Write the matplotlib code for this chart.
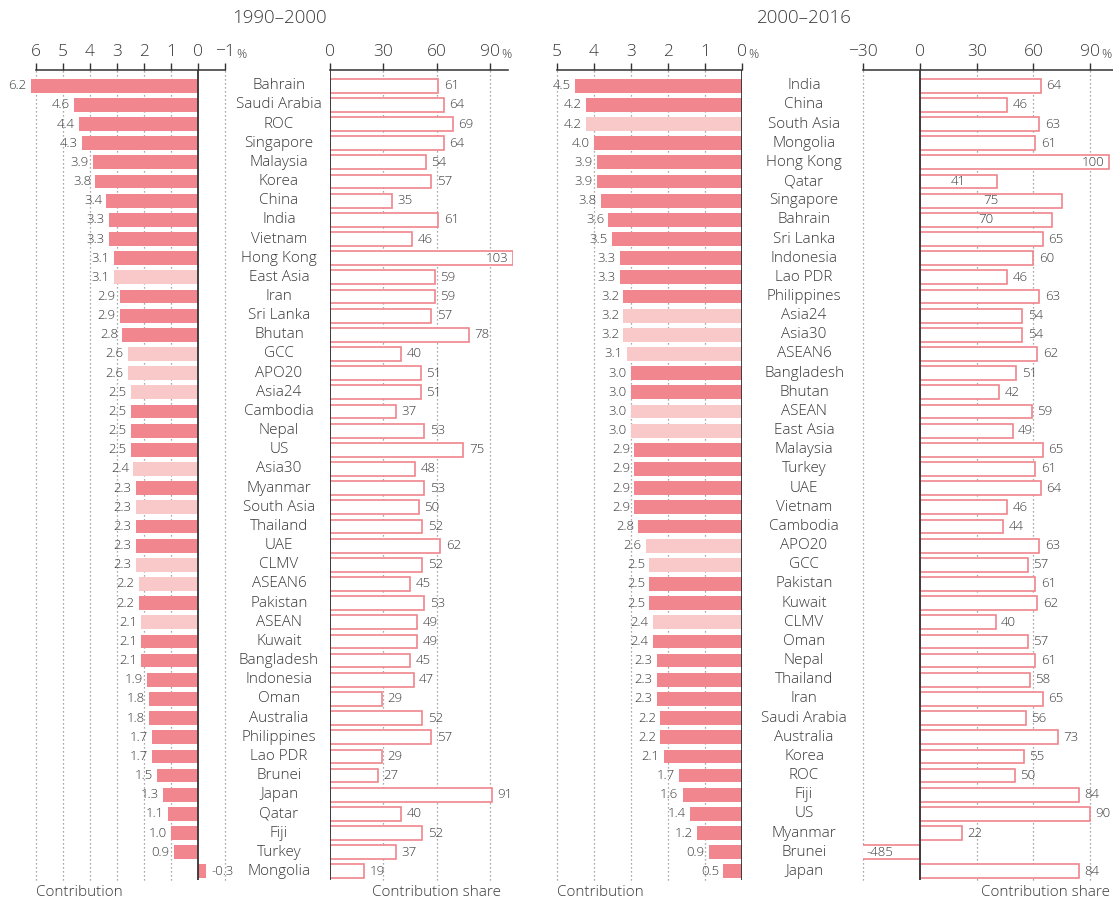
import matplotlib
matplotlib.use("Agg")
import matplotlib.pyplot as plt
from matplotlib.transforms import blended_transform_factory

plt.rcParams['font.family'] = ['Open Sans', 'DejaVu Sans']
plt.rcParams['font.weight'] = 'light'

# ---- data -------------------------------------------------------------
names_1990 = ["Bahrain", "Saudi Arabia", "ROC", "Singapore", "Malaysia", "Korea",
              "China", "India", "Vietnam", "Hong Kong", "East Asia", "Iran",
              "Sri Lanka", "Bhutan", "GCC", "APO20", "Asia24", "Cambodia", "Nepal",
              "US", "Asia30", "Myanmar", "South Asia", "Thailand", "UAE", "CLMV",
              "ASEAN6", "Pakistan", "ASEAN", "Kuwait", "Bangladesh", "Indonesia",
              "Oman", "Australia", "Philippines", "Lao PDR", "Brunei", "Japan",
              "Qatar", "Fiji", "Turkey", "Mongolia"]
contrib_1990 = [6.2, 4.6, 4.4, 4.3, 3.9, 3.8, 3.4, 3.3, 3.3, 3.1, 3.1, 2.9, 2.9,
                2.8, 2.6, 2.6, 2.5, 2.5, 2.5, 2.5, 2.4, 2.3, 2.3, 2.3, 2.3, 2.3,
                2.2, 2.2, 2.1, 2.1, 2.1, 1.9, 1.8, 1.8, 1.7, 1.7, 1.5, 1.3, 1.1,
                1.0, 0.9, -0.3]
share_1990 = [61, 64, 69, 64, 54, 57, 35, 61, 46, 103, 59, 59, 57, 78, 40, 51, 51,
              37, 53, 75, 48, 53, 50, 52, 62, 52, 45, 53, 49, 49, 45, 47, 29, 52,
              57, 29, 27, 91, 40, 52, 37, 19]

names_2000 = ["India", "China", "South Asia", "Mongolia", "Hong Kong", "Qatar",
              "Singapore", "Bahrain", "Sri Lanka", "Indonesia", "Lao PDR",
              "Philippines", "Asia24", "Asia30", "ASEAN6", "Bangladesh", "Bhutan",
              "ASEAN", "East Asia", "Malaysia", "Turkey", "UAE", "Vietnam",
              "Cambodia", "APO20", "GCC", "Pakistan", "Kuwait", "CLMV", "Oman",
              "Nepal", "Thailand", "Iran", "Saudi Arabia", "Australia", "Korea",
              "ROC", "Fiji", "US", "Myanmar", "Brunei", "Japan"]
contrib_2000 = [4.5, 4.2, 4.2, 4.0, 3.9, 3.9, 3.8, 3.6, 3.5, 3.3, 3.3, 3.2, 3.2,
                3.2, 3.1, 3.0, 3.0, 3.0, 3.0, 2.9, 2.9, 2.9, 2.9, 2.8, 2.6, 2.5,
                2.5, 2.5, 2.4, 2.4, 2.3, 2.3, 2.3, 2.2, 2.2, 2.1, 1.7, 1.6, 1.4,
                1.2, 0.9, 0.5]
share_2000 = [64, 46, 63, 61, 100, 41, 75, 70, 65, 60, 46, 63, 54, 54, 62, 51, 42,
              59, 49, 65, 61, 64, 46, 44, 63, 57, 61, 62, 40, 57, 61, 58, 65, 56,
              73, 55, 50, 84, 90, 22, -485, 84]

regional_groups = {"East Asia", "GCC", "APO20", "Asia24", "Asia30", "South Asia",
                   "CLMV", "ASEAN6", "ASEAN"}

contrib_ticks_1990 = [6, 5, 4, 3, 2, 1, 0, -1]
share_ticks_1990 = [0, 30, 60, 90]
contrib_ticks_2000 = [5, 4, 3, 2, 1, 0]
share_ticks_2000 = [-30, 0, 30, 60, 90]

# ---- style ------------------------------------------------------------
W, H = 1113, 900
TOP_PX, BOT_PX = 70, 880
DARK = "#F2868E"
LIGHT = "#F9C9C9"
EDGE = "#F0858D"
AXC = "#333333"
TXT = "#3a3a3a"
GRID = "#8c8c8c"
VAL_FS = 9.5

fig = plt.figure(figsize=(W / 100, H / 100), dpi=100)


def make_ax(left_px, right_px):
    return fig.add_axes([left_px / W, 1 - BOT_PX / H, (right_px - left_px) / W,
                         (BOT_PX - TOP_PX) / H])


def setup(ax, xlim, ticks, bounds, grid_ticks):
    n = 42
    ax.set_xlim(*xlim)
    ax.set_ylim(n - 1 + 0.45, -0.82)
    ax.patch.set_visible(False)
    for s in ("left", "right", "bottom"):
        ax.spines[s].set_visible(False)
    ax.spines["top"].set_bounds(*bounds)
    ax.spines["top"].set_color(AXC)
    ax.spines["top"].set_linewidth(1.1)
    ax.xaxis.tick_top()
    ax.set_xticks(ticks)
    ax.set_yticks([])
    ax.tick_params(axis="x", direction="out", length=5, width=1, color=AXC,
                   labelsize=12.5, labelcolor=TXT, pad=2)
    for t in grid_ticks:
        ax.axvline(t, color=GRID, lw=0.9, ls=(0, (1, 2.2)), zorder=0, clip_on=False)
    ax.axvline(0, color=AXC, lw=1.3, zorder=4)


def pct(ax, x, half_w_px):
    ax.annotate("%", xy=(x, 1), xycoords=("data", "axes fraction"),
                xytext=((half_w_px + 2) * 0.72, 9), textcoords="offset points",
                ha="left", va="baseline", fontsize=9, color=TXT)


def contrib_panel(ax, names, vals):
    y = list(range(len(names)))
    cols = [LIGHT if n in regional_groups else DARK for n in names]
    ax.barh(y, vals, height=0.72, color=cols, zorder=2)
    for yi, v in zip(y, vals):
        if v >= 0:
            ax.annotate(f"{v:.1f}", xy=(v, yi), xytext=(-3, 0), textcoords="offset points",
                        ha="right", va="center", fontsize=VAL_FS, color=TXT)
        else:
            ax.annotate(f"-{abs(v):.1f}", xy=(v, yi), xytext=(4, 0), textcoords="offset points",
                        ha="left", va="center", fontsize=VAL_FS, color=TXT)


def share_panel(ax, names, vals, placement):
    y = list(range(len(names)))
    ax.barh(y, vals, height=0.72, facecolor="white", edgecolor=EDGE, lw=1.2, zorder=2)
    xmin = ax.get_xlim()[0]
    for yi, n, v in zip(y, names, vals):
        lab = f"{v}" if v >= 0 else f"-{abs(v)}"
        where = placement.get(n, "out")
        if where == "out":
            ax.annotate(lab, xy=(v, yi), xytext=(4, 0), textcoords="offset points",
                        ha="left", va="center", fontsize=VAL_FS, color=TXT, zorder=5)
        elif where == "end":
            ax.annotate(lab, xy=(v, yi), xytext=(-3, 0), textcoords="offset points",
                        ha="right", va="center", fontsize=VAL_FS, color=TXT, zorder=5)
        elif where == "center":
            ax.text(v / 2, yi, lab, ha="center", va="center", fontsize=VAL_FS,
                    color=TXT, zorder=5)
        elif where == "clip":
            ax.annotate(lab, xy=(xmin, yi), xytext=(2, 0), textcoords="offset points",
                        ha="left", va="center", fontsize=VAL_FS, color=TXT, zorder=5)


def name_column(ax, names, x_px):
    tr = blended_transform_factory(fig.transFigure, ax.transData)
    for yi, n in enumerate(names):
        ax.text(x_px / W, yi, n, transform=tr, ha="center", va="center",
                fontsize=11, color=TXT, clip_on=False)


# ---- 1990-2000 --------------------------------------------------------
c0, c_unit = 198, 27.0
ax1 = make_ax(c0 - 6.3 * c_unit, c0 + 1 * c_unit)
setup(ax1, (6.3, -1), contrib_ticks_1990, (-1, 6), [6, 5, 4, 3, 2, 1, -1])
contrib_panel(ax1, names_1990, contrib_1990)
pct(ax1, -1, 9)

s0, s_unit = 330, 53.3 / 30
ax2 = make_ax(s0, s0 + 103 * s_unit)
setup(ax2, (0, 103), share_ticks_1990, (0, 100), [30, 60, 90])
share_panel(ax2, names_1990, share_1990, {"Hong Kong": "end"})
pct(ax2, 90, 9)
name_column(ax2, names_1990, 279)

# ---- 2000-2016 --------------------------------------------------------
c0b, c_unitb = 742, 37.1
ax3 = make_ax(c0b - 5 * c_unitb, c0b)
setup(ax3, (5, 0), contrib_ticks_2000, (0, 5), [5, 4, 3, 2, 1])
contrib_panel(ax3, names_2000, contrib_2000)
pct(ax3, 0, 4.5)

s0b, s_unitb = 920, 56.7 / 30
ax4 = make_ax(s0b - 30 * s_unitb, W)
right_lim = (W - s0b) / s_unitb
setup(ax4, (-30, right_lim), share_ticks_2000, (-30, right_lim), [-30, 30, 60, 90])
share_panel(ax4, names_2000, share_2000,
            {"Hong Kong": "end", "Qatar": "center", "Singapore": "center",
             "Bahrain": "center", "Brunei": "clip"})
pct(ax4, 90, 9)
name_column(ax4, names_2000, 804)

# ---- titles and axis captions ------------------------------------------
fig.text(279 / W, 1 - 18 / H, "1990–2000", ha="center", va="center", fontsize=13.5, color=TXT)
fig.text(804 / W, 1 - 18 / H, "2000–2016", ha="center", va="center", fontsize=13.5, color=TXT)
fig.text(36 / W, 1 - 893 / H, "Contribution", ha="left", va="center", fontsize=11, color=TXT)
fig.text(501 / W, 1 - 893 / H, "Contribution share", ha="right", va="center", fontsize=11, color=TXT)
fig.text(557 / W, 1 - 893 / H, "Contribution", ha="left", va="center", fontsize=11, color=TXT)
fig.text(1110 / W, 1 - 893 / H, "Contribution share", ha="right", va="center", fontsize=11, color=TXT)

fig.savefig("out.png", dpi=100, facecolor="white")
